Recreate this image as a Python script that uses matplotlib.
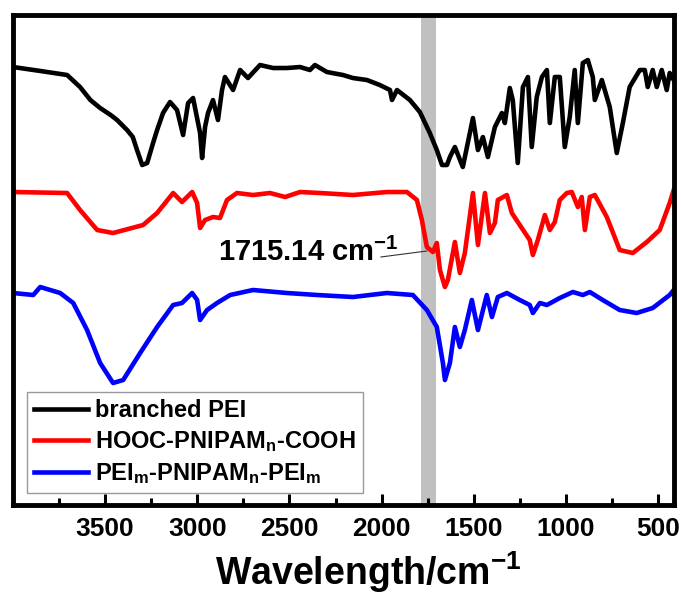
import matplotlib
matplotlib.use("Agg")
import matplotlib.pyplot as plt

plt.rcParams['font.family'] = ['Liberation Sans', 'DejaVu Sans']
plt.rcParams['font.weight'] = 'bold'
plt.rcParams['mathtext.fontset'] = 'custom'
plt.rcParams['mathtext.rm'] = 'Liberation Sans:bold'
plt.rcParams['mathtext.it'] = 'Liberation Sans:bold'
plt.rcParams['mathtext.bf'] = 'Liberation Sans:bold'
plt.rcParams['mathtext.default'] = 'rm'

# ---- data (wavenumber, cm^-1 ; intensity, a.u.) ----
pei_x = [4000, 3850, 3706, 3636, 3580, 3527, 3470, 3435, 3381, 3350, 3327, 3299, 3272, 3240,
         3218, 3186, 3148, 3110, 3077,
         3050, 3023, 2985, 2974, 2958, 2942, 2915, 2888, 2866, 2850, 2806, 2768, 2725, 2660,
         2589, 2514, 2443, 2389, 2362, 2297, 2210, 2156, 2080, 2010, 1955, 1944, 1917, 1847,
         1793, 1739, 1701, 1673, 1646, 1630, 1603, 1560, 1505, 1478, 1451, 1424, 1386, 1348,
         1332, 1305, 1289, 1262, 1234, 1207, 1186, 1159, 1131, 1104, 1088, 1061, 1034, 1007,
         980, 953, 936, 909, 882, 855, 844, 806, 763, 725, 692, 655, 600, 573, 557, 530, 508,
         481, 454, 438, 416]
pei_y = [438, 434, 430, 418, 405, 397, 390, 385, 375, 368, 355, 340, 342, 362,
         375, 392, 403, 395, 370,
         402, 407, 372, 347, 378, 392, 405, 385, 415, 428, 415, 435, 427, 440,
         437, 437, 438, 435, 440, 433, 430, 427, 425, 420, 415, 405, 415, 405,
         393, 372, 355, 340, 340, 348, 358, 338, 387, 355, 368, 348, 378, 392,
         382, 417, 405, 342, 418, 428, 358, 408, 428, 435, 382, 428, 428, 358,
         388, 435, 382, 442, 445, 428, 405, 425, 398, 352, 382, 418, 435, 435, 418, 435, 418,
         435, 415, 432, 425]

cooh_x = [4000, 3706, 3636, 3543, 3457, 3294, 3218, 3131, 3083, 3028, 3001, 2985, 2958, 2915,
          2877, 2839, 2785, 2698, 2606, 2524, 2443, 2335, 2156, 1972, 1863, 1809, 1782, 1755,
          1722, 1701, 1684, 1657, 1641, 1603, 1576, 1549, 1505, 1478, 1440, 1413, 1386, 1370,
          1321, 1294, 1251, 1197, 1180, 1153, 1115, 1088, 1061, 1034, 996, 969, 936, 915, 898,
          871, 844, 779, 709, 638, 562, 492, 438, 416]
cooh_y = [313, 312, 295, 275, 272, 280, 292, 312, 303, 313, 302, 277, 285, 288,
          287, 305, 312, 310, 312, 308, 313, 312, 310, 313, 313, 305, 285, 258,
          253, 262, 235, 218, 225, 263, 232, 252, 312, 260, 312, 272, 282, 305,
          310, 292, 280, 265, 250, 265, 290, 275, 283, 305, 312, 313, 298, 308, 275,
          308, 310, 288, 255, 252, 263, 275, 302, 315]

copo_x = [4000, 3890, 3852, 3744, 3673, 3598, 3527, 3457, 3402, 3310, 3218, 3131, 3083, 3028,
          3001, 2985, 2947, 2893, 2822, 2698, 2514, 2351, 2156, 1972, 1831, 1755, 1701, 1668,
          1657, 1630, 1603, 1576, 1549, 1511, 1478, 1430, 1402, 1370, 1321, 1251, 1197, 1180,
          1142, 1104, 1034, 963, 909, 871, 801, 709, 617, 530, 438, 416]
copo_y = [212, 210, 218, 212, 202, 175, 142, 122, 125, 152, 178, 200, 202, 212,
          205, 185, 195, 202, 210, 215, 212, 210, 208, 212, 210, 195, 178, 142,
          125, 142, 178, 158, 175, 205, 175, 210, 188, 208, 212, 205, 200, 192,
          202, 200, 207, 213, 210, 213, 205, 195, 192, 197, 210, 215]

labels = ['branched PEI', 'HOOC-PNIPAM$_{n}$-COOH', 'PEI$_{m}$-PNIPAM$_{n}$-PEI$_{m}$']
colors = ['black', 'red', 'blue']
major_ticks = [3500, 3000, 2500, 2000, 1500, 1000, 500]
minor_ticks = [3750, 3250, 2750, 2250, 1750, 1250, 750]
band = (1707, 1789)

fig = plt.figure(figsize=(6.81, 5.96), dpi=100)
ax = fig.add_axes([0.019, 0.1527, 0.9706, 0.8221])

ax.axvspan(band[0], band[1], color='#c0c0c0', zorder=0, lw=0)
for xs, ys, c, lab in zip([pei_x, cooh_x, copo_x], [pei_y, cooh_y, copo_y], colors, labels):
    ax.plot(xs, ys, color=c, lw=3.3, label=lab, solid_joinstyle='round', zorder=2)

ax.set_xlim(4000, 415)
ax.set_ylim(0, 490)
ax.set_yticks([])
ax.set_xticks(major_ticks)
ax.set_xticks(minor_ticks, minor=True)
ax.tick_params(axis='x', which='major', direction='in', length=8, width=2.2, pad=9,
               labelsize=19, top=False)
ax.tick_params(axis='x', which='minor', direction='in', length=5, width=2.2, top=False)
for lab in ax.get_xticklabels():
    lab.set_fontweight('bold')
for s in ax.spines.values():
    s.set_linewidth(3.5)

ax.set_xlabel('Wavelength/cm$^{-1}$', fontsize=27, fontweight='bold')
ax.xaxis.set_label_coords(0.537, -0.163)
ax.xaxis.label.set_va('baseline')

ax.text(2888, 244, '1715.14 cm$^{-1}$', fontsize=21, fontweight='bold', ha='left', va='baseline')
ax.annotate('', xy=(1755, 254), xytext=(2005, 248),
            arrowprops=dict(arrowstyle='-', lw=0.8, color='#333333', shrinkA=0, shrinkB=0))

leg = ax.legend(loc='lower left', bbox_to_anchor=(0.021, 0.024), borderaxespad=0,
                fancybox=False, frameon=True, edgecolor='#808080', fontsize=17,
                handlelength=2.3, handletextpad=0.3, labelspacing=0.3, borderpad=0.3)
leg.get_frame().set_linewidth(1.0)
for t in leg.get_texts():
    t.set_fontweight('bold')

fig.savefig('out.png', dpi=100)
